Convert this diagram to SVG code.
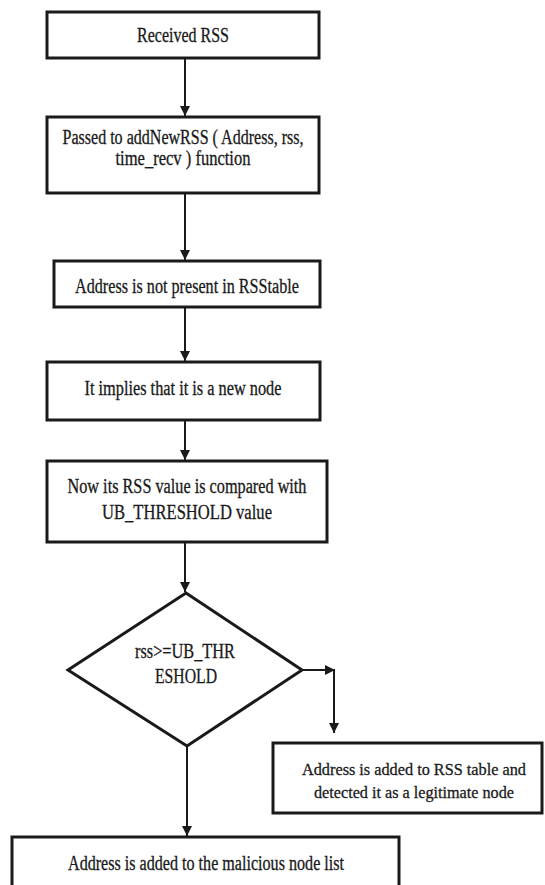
<svg xmlns="http://www.w3.org/2000/svg" width="545" height="885" viewBox="0 0 545 885">
<style>
.box{fill:#fff;stroke:#1a1a1a;stroke-width:3}
.t{font-family:"Liberation Serif","Times New Roman",serif;font-size:20px;fill:#1a1a1a;stroke:#1a1a1a;stroke-width:0.3;text-anchor:middle}
.s{font-size:17px}
.c{fill:none;stroke:#1a1a1a;stroke-width:2}
</style>
<defs>
<marker id="ah" viewBox="0 0 10 10" refX="10" refY="5" markerWidth="5.5" markerHeight="5" orient="auto">
<path d="M0,0 L10,5 L0,10 z" fill="#1a1a1a"/>
</marker>
</defs>
<rect width="545" height="885" fill="#fff"/>
<g id="connectors">
<line class="c" x1="185" y1="58" x2="185" y2="116" marker-end="url(#ah)"/>
<line class="c" x1="185" y1="193" x2="185" y2="260" marker-end="url(#ah)"/>
<line class="c" x1="185" y1="307" x2="185" y2="361" marker-end="url(#ah)"/>
<line class="c" x1="185" y1="420" x2="185" y2="460" marker-end="url(#ah)"/>
<line class="c" x1="185" y1="542" x2="185" y2="592" marker-end="url(#ah)"/>
<line class="c" x1="302" y1="670" x2="335" y2="670" marker-end="url(#ah)"/>
<line class="c" x1="334" y1="670" x2="334" y2="733" marker-end="url(#ah)"/>
<line class="c" x1="187" y1="746" x2="187" y2="836" marker-end="url(#ah)"/>
</g>
<g id="n1">
<rect class="box" x="47" y="12" width="272" height="46"/>
<text class="t" x="183" y="42" textLength="92" lengthAdjust="spacingAndGlyphs">Received RSS</text>
</g>
<g id="n2">
<rect class="box" x="47" y="117" width="272" height="76"/>
<text class="t" x="183" y="144" textLength="241" lengthAdjust="spacingAndGlyphs">Passed to addNewRSS ( Address, rss,</text>
<text class="t" x="183" y="165" textLength="135" lengthAdjust="spacingAndGlyphs">time_recv ) function</text>
</g>
<g id="n3">
<rect class="box" x="54" y="261" width="266" height="46"/>
<text class="t" x="187" y="293" textLength="224" lengthAdjust="spacingAndGlyphs">Address is not present in RSStable</text>
</g>
<g id="n4">
<rect class="box" x="47" y="362" width="273" height="58"/>
<text class="t" x="183" y="395" textLength="197" lengthAdjust="spacingAndGlyphs">It implies that it is a new node</text>
</g>
<g id="n5">
<rect class="box" x="47" y="461" width="280" height="81"/>
<text class="t" x="187" y="493" textLength="239" lengthAdjust="spacingAndGlyphs">Now its RSS value is compared with</text>
<text class="t" x="187" y="519" textLength="170" lengthAdjust="spacingAndGlyphs">UB_THRESHOLD value</text>
</g>
<g id="n6">
<polygon class="box" points="186,593 302,670 187,746 68,670"/>
<text class="t" x="185" y="658" textLength="100" lengthAdjust="spacingAndGlyphs">rss&gt;=UB_THR</text>
<text class="t" x="186" y="683" textLength="62" lengthAdjust="spacingAndGlyphs">ESHOLD</text>
</g>
<g id="n7">
<rect class="box" x="273" y="743" width="269" height="70"/>
<text class="t s" x="414" y="775" textLength="224" lengthAdjust="spacingAndGlyphs">Address is added to RSS table and</text>
<text class="t s" x="414" y="798" textLength="200" lengthAdjust="spacingAndGlyphs">detected it as a legitimate node</text>
</g>
<g id="n8">
<rect class="box" x="12" y="837" width="387" height="60"/>
<text class="t" x="206" y="870" textLength="276" lengthAdjust="spacingAndGlyphs">Address is added to the malicious node list</text>
</g>
</svg>
